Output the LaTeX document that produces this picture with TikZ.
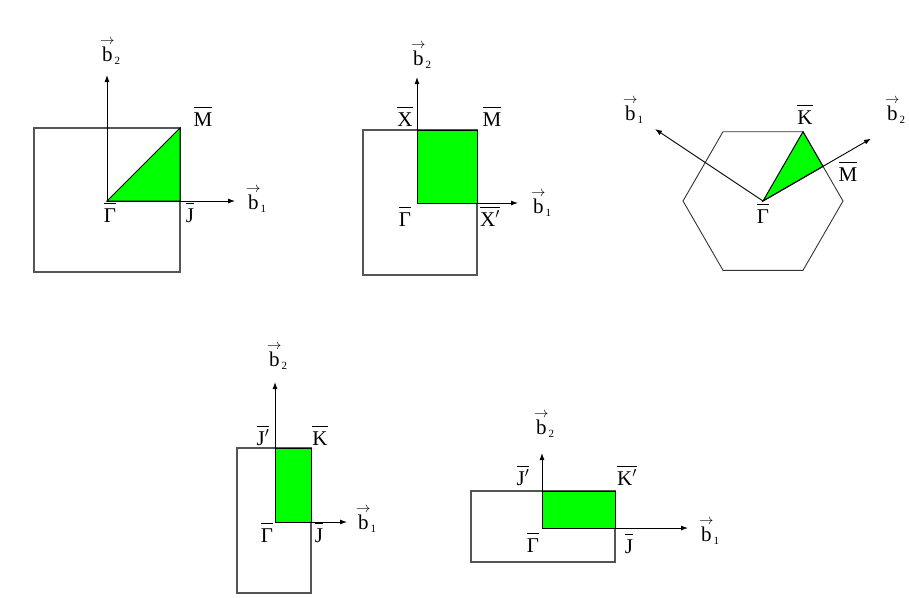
\documentclass[tikz,border=0pt]{standalone}
\usepackage{fontspec}
\setmainfont{Liberation Serif}
\usetikzlibrary{arrows.meta,calc}
\definecolor{zonegray}{RGB}{85,85,85}
\definecolor{ibzgreen}{RGB}{0,255,0}
\newcommand{\olbl}[1]{$\overline{\hbox{\rule{0pt}{17pt}#1}}$}
\newcommand{\bvec}[1]{$\stackrel{\rightarrow}{\hbox{b}}_{\hbox{\fontsize{11}{11}\selectfont #1}}$}
\begin{document}
\begin{tikzpicture}[x=1pt,y=-1pt,
  bz/.style={draw=zonegray, line width=1.1pt},
  hx/.style={draw=black!80, line width=0.9pt},
  ax/.style={draw=black, line width=0.9pt, -{Latex[length=7pt,width=5pt]}},
  ibz/.style={fill=ibzgreen, draw=black, line width=1pt},
  lbl/.style={font=\fontsize{21}{22}\selectfont, inner sep=0pt, anchor=base},
  vlbl/.style={font=\fontsize{21}{22}\selectfont, inner sep=0pt, anchor=base west}]
\path[use as bounding box] (0,0) rectangle (909,597);

% ---------- panel 1 ----------
\coordinate (G1) at (107,201);
\coordinate (J1) at (180,201);
\coordinate (M1) at (180,128);
\draw[bz] (34,128) rectangle (180,272);
\filldraw[ibz] (G1) -- (J1) -- (M1) -- cycle;
\coordinate (b1t1) at (235,201);
\coordinate (b2t1) at (107,75);
\draw[ax] (G1) -- (b1t1);
\draw[ax] (G1) -- (b2t1);
\node[vlbl] (l1b2) at (100,61) {\bvec{2}};
\node[lbl] (l1M) at (203,126) {\olbl{M}};
\node[vlbl] (l1b1) at (246,209) {\bvec{1}};
\node[lbl] (l1G) at (110,222) {\olbl{Γ}};
\node[lbl] (l1J) at (190,222) {\olbl{J}};

% ---------- panel 2 ----------
\coordinate (G2) at (417,203);
\coordinate (X2) at (417,130);
\coordinate (M2) at (477,130);
\coordinate (Xp2) at (477,203);
\draw[bz] (363,130) rectangle (477,275);
\filldraw[ibz] (G2) rectangle (M2);
\coordinate (b1t2) at (518,203);
\coordinate (b2t2) at (417,77);
\draw[ax] (G2) -- (b1t2);
\draw[ax] (G2) -- (b2t2);
\node[vlbl] (l2b2) at (411,65) {\bvec{2}};
\node[lbl] (l2X) at (405,126) {\olbl{X}};
\node[lbl] (l2M) at (492,126) {\olbl{M}};
\node[vlbl] (l2b1) at (531,213) {\bvec{1}};
\node[lbl] (l2G) at (405,226) {\olbl{Γ}};
\node[lbl] (l2Xp) at (490,226) {\olbl{X$'$}};

% ---------- panel 3 ----------
\coordinate (G3) at (763,201);
\coordinate (K3) at ($(G3)+(40,-69.3)$);
\draw[hx] (G3) ++(80,0) -- ++(-40,-69.3) -- ++(-80,0) -- ++(-40,69.3) -- ++(40,69.3) -- ++(80,0) -- cycle;
\coordinate (M3) at ($(G3)+(60,-34.6)$);
\filldraw[ibz] (G3) -- (K3) -- (M3) -- cycle;
\coordinate (b1t3) at (655,129);
\coordinate (b2t3) at ($(G3)+(108,-62.4)$);
\draw[ax] (G3) -- (b1t3);
\draw[ax] (G3) -- (b2t3);
\node[vlbl] (l3b1) at (623,120) {\bvec{1}};
\node[lbl] (l3K) at (805,124) {\olbl{K}};
\node[vlbl] (l3b2) at (885,120) {\bvec{2}};
\node[lbl] (l3M) at (848,181) {\olbl{M}};
\node[lbl] (l3G) at (763,223) {\olbl{Γ}};

% ---------- panel 4 ----------
\coordinate (G4) at (275,522);
\coordinate (K4) at (311,448);
\draw[bz] (237,448) rectangle (311,593);
\filldraw[ibz] (G4) rectangle (K4);
\coordinate (b1t4) at (347,522);
\coordinate (b2t4) at (275,382);
\draw[ax] (G4) -- (b1t4);
\draw[ax] (G4) -- (b2t4);
\node[vlbl] (l4b2) at (267,366) {\bvec{2}};
\node[lbl] (l4Jp) at (263,445) {\olbl{J$'$}};
\node[lbl] (l4K) at (320,445) {\olbl{K}};
\node[lbl] (l4G) at (267,542) {\olbl{Γ}};
\node[lbl] (l4J) at (319,542) {\olbl{J}};
\node[vlbl] (l4b1) at (356,529) {\bvec{1}};

% ---------- panel 5 ----------
\coordinate (G5) at (542,528);
\coordinate (K5) at (615,491);
\draw[bz] (471,491) rectangle (615,562);
\filldraw[ibz] (G5) rectangle (K5);
\coordinate (b1t5) at (688,528);
\coordinate (b2t5) at (542,453);
\draw[ax] (G5) -- (b1t5);
\draw[ax] (G5) -- (b2t5);
\node[vlbl] (l5b2) at (534,434) {\bvec{2}};
\node[lbl] (l5Jp) at (523,485) {\olbl{J$'$}};
\node[lbl] (l5Kp) at (627,485) {\olbl{K$'$}};
\node[lbl] (l5G) at (533,552) {\olbl{Γ}};
\node[lbl] (l5J) at (629,553) {\olbl{J}};
\node[vlbl] (l5b1) at (699,541) {\bvec{1}};
\end{tikzpicture}
\end{document}
